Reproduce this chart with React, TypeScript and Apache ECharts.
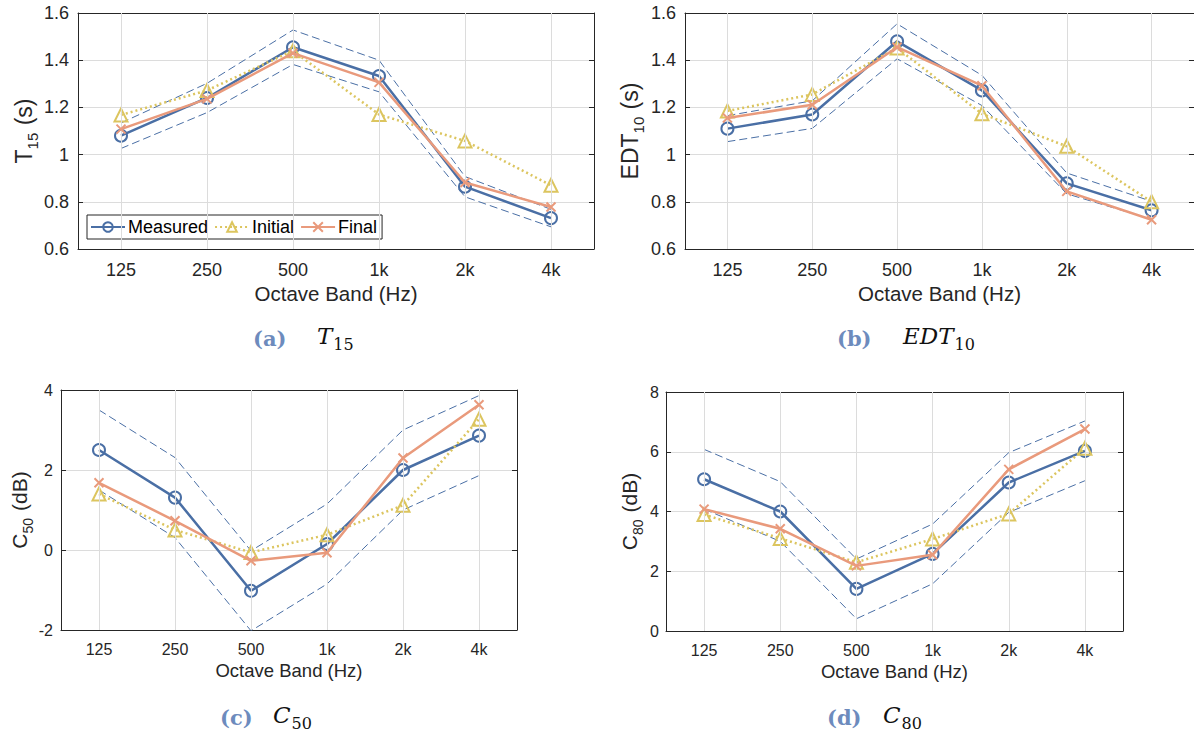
import React, { useEffect, useRef } from "react";
import * as echarts from "echarts";

// ---------- data ----------
const CATS = ["125", "250", "500", "1k", "2k", "4k"];
const SERIES_NAMES = ["Measured", "Initial", "Final"];

const T15_MEASURED = [1.08, 1.24, 1.455, 1.333, 0.864, 0.731];
const T15_INITIAL = [1.168, 1.272, 1.44, 1.17, 1.058, 0.87];
const T15_FINAL = [1.108, 1.236, 1.43, 1.306, 0.882, 0.778];
const T15_UPPER = [1.134, 1.302, 1.528, 1.4, 0.907, 0.768];
const T15_LOWER = [1.026, 1.178, 1.382, 1.266, 0.821, 0.694];

const EDT_MEASURED = [1.11, 1.17, 1.48, 1.272, 0.878, 0.764];
const EDT_INITIAL = [1.185, 1.255, 1.452, 1.173, 1.035, 0.8];
const EDT_FINAL = [1.155, 1.211, 1.455, 1.292, 0.844, 0.724];
const EDT_UPPER = [1.165, 1.228, 1.554, 1.336, 0.922, 0.802];
const EDT_LOWER = [1.055, 1.111, 1.406, 1.208, 0.834, 0.726];

const C50_MEASURED = [2.5, 1.31, -1.02, 0.15, 2.0, 2.86];
const C50_INITIAL = [1.4, 0.5, -0.06, 0.38, 1.12, 3.27];
const C50_FINAL = [1.68, 0.73, -0.27, -0.07, 2.3, 3.63];
const C50_UPPER = [3.5, 2.31, -0.02, 1.15, 3.0, 3.86];
const C50_LOWER = [1.5, 0.31, -2.02, -0.85, 1.0, 1.86];

const C80_MEASURED = [5.08, 4.0, 1.41, 2.58, 4.97, 6.03];
const C80_INITIAL = [3.9, 3.1, 2.3, 3.08, 3.92, 6.12];
const C80_FINAL = [4.08, 3.42, 2.18, 2.55, 5.41, 6.76];
const C80_UPPER = [6.08, 5.0, 2.41, 3.58, 5.97, 7.03];
const C80_LOWER = [4.08, 3.0, 0.41, 1.58, 3.97, 5.03];

const X_NAME = "Octave Band (Hz)";

// ---------- style ----------
const FONT = "'Liberation Sans', Arial, Helvetica, sans-serif";
const SERIF = "'DejaVu Serif', 'Liberation Serif', serif";
const BLUE = "#4a6fa5";
const YELLOW = "#dcc55f";
const ORANGE = "#e99a7c";
const AXIS = "#262626";
const GRID = "#dcdcdc";
const CAP_BLUE = "#6d8bbd";
const X_SYMBOL = "path://M0,0L10,10M10,0L0,10";

const PANELS = [
  {
    grid: { left: 78, top: 13, width: 516, height: 236 },
    min: 0.6, max: 1.6, interval: 0.2,
    yMain: "T", ySub: "15", yUnit: " (s)",
    yNameGap: 38, tickFont: 18, nameFont: 20.5, yNameFont: 23, ySubFont: 15, ySubPad: 13,
    labelMargin: 12, xNameGap: 34, yLabelMargin: 9,
    data: [T15_MEASURED, T15_INITIAL, T15_FINAL, T15_UPPER, T15_LOWER],
  },
  {
    grid: { left: 685, top: 13, width: 516, height: 236 },
    min: 0.6, max: 1.6, interval: 0.2,
    yMain: "EDT", ySub: "10", yUnit: " (s)",
    yNameGap: 44, tickFont: 18, nameFont: 20.5, yNameFont: 23, ySubFont: 15, ySubPad: 13,
    labelMargin: 12, xNameGap: 34, yLabelMargin: 9,
    data: [EDT_MEASURED, EDT_INITIAL, EDT_FINAL, EDT_UPPER, EDT_LOWER],
  },
  {
    grid: { left: 61, top: 390, width: 456, height: 240 },
    min: -2, max: 4, interval: 2,
    yMain: "C", ySub: "50", yUnit: " (dB)",
    yNameGap: 27, tickFont: 16, nameFont: 18.5, yNameFont: 21, ySubFont: 14, ySubPad: 12,
    labelMargin: 11, xNameGap: 31, yLabelMargin: 8,
    data: [C50_MEASURED, C50_INITIAL, C50_FINAL, C50_UPPER, C50_LOWER],
  },
  {
    grid: { left: 666, top: 392, width: 457, height: 239 },
    min: 0, max: 8, interval: 2,
    yMain: "C", ySub: "80", yUnit: " (dB)",
    yNameGap: 26, tickFont: 16, nameFont: 18.5, yNameFont: 21, ySubFont: 14, ySubPad: 12,
    labelMargin: 11, xNameGap: 31, yLabelMargin: 7,
    data: [C80_MEASURED, C80_INITIAL, C80_FINAL, C80_UPPER, C80_LOWER],
  },
];

const CAPTIONS = [
  { label: "(a)", main: "T", sub: "15", lx: 253, mx: 317, y: 338 },
  { label: "(b)", main: "EDT", sub: "10", lx: 837, mx: 903, y: 338 },
  { label: "(c)", main: "C", sub: "50", lx: 220, mx: 273, y: 717 },
  { label: "(d)", main: "C", sub: "80", lx: 827, mx: 883, y: 717 },
];

function buildOption() {
  const grid: any[] = [];
  const xAxis: any[] = [];
  const yAxis: any[] = [];
  const series: any[] = [];

  PANELS.forEach((p, i) => {
    grid.push({ ...p.grid, containLabel: false });
    const tick = { show: true, inside: true, length: 5, alignWithLabel: true, lineStyle: { color: AXIS, width: 1 } };
    const line = { show: true, onZero: false, lineStyle: { color: AXIS, width: 1 } };
    xAxis.push({
      type: "category", gridIndex: i, data: CATS, boundaryGap: true, position: "bottom",
      axisLine: line, axisTick: tick,
      axisLabel: { fontSize: p.tickFont, fontFamily: FONT, color: AXIS, margin: p.labelMargin },
      splitLine: { show: false },
      name: X_NAME, nameLocation: "middle", nameGap: p.xNameGap,
      nameTextStyle: { fontSize: p.nameFont, fontFamily: FONT, color: AXIS, verticalAlign: "top" },
    });
    xAxis.push({
      type: "category", gridIndex: i, data: CATS, boundaryGap: true, position: "top",
      axisLine: line, axisTick: tick, axisLabel: { show: false }, splitLine: { show: false },
    });
    const yName = `{n|${p.yMain}}{s|${p.ySub}}{n|${p.yUnit}}`;
    yAxis.push({
      type: "value", gridIndex: i, min: p.min, max: p.max, interval: p.interval, position: "left",
      axisLine: line, axisTick: { show: true, inside: true, length: 5, lineStyle: { color: AXIS } },
      axisLabel: { fontSize: p.tickFont, fontFamily: FONT, color: AXIS, margin: p.yLabelMargin },
      splitLine: { show: true, lineStyle: { color: GRID, width: 1 } },
      name: yName, nameLocation: "middle", nameGap: p.yNameGap, nameRotate: 90,
      nameTextStyle: {
        fontFamily: FONT, color: AXIS,
        rich: {
          n: { fontSize: p.yNameFont, fontFamily: FONT, color: AXIS, lineHeight: p.yNameFont, verticalAlign: "top" },
          s: { fontSize: p.ySubFont, fontFamily: FONT, color: AXIS, lineHeight: p.ySubFont, verticalAlign: "top", padding: [p.ySubPad, 1, 0, 0] },
        },
      },
    });
    yAxis.push({
      type: "value", gridIndex: i, min: p.min, max: p.max, interval: p.interval, position: "right",
      axisLine: line, axisTick: { show: true, inside: true, length: 5, lineStyle: { color: AXIS } },
      axisLabel: { show: false }, splitLine: { show: false },
    });

    const xi = 2 * i;
    const yi = 2 * i;
    // vertical grid lines at category centres
    series.push({
      type: "line", xAxisIndex: xi, yAxisIndex: yi, data: CATS.map(() => null), z: 1, silent: true,
      symbol: "none", lineStyle: { opacity: 0 },
      markLine: {
        silent: true, symbol: ["none", "none"], label: { show: false },
        lineStyle: { color: GRID, width: 1, type: "solid" },
        emphasis: { disabled: true },
        data: CATS.map((c) => ({ xAxis: c })),
      },
    });
    const [meas, init, fin, up, lo] = p.data;
    [up, lo].forEach((d) => {
      series.push({
        type: "line", xAxisIndex: xi, yAxisIndex: yi, data: d, z: 2, silent: true,
        symbol: "none", lineStyle: { color: BLUE, width: 1, type: [8, 4] },
      });
    });
    series.push({
      name: SERIES_NAMES[0], type: "line", xAxisIndex: xi, yAxisIndex: yi, data: meas, z: 3,
      symbol: "circle", symbolSize: 12,
      itemStyle: { color: "rgba(255,255,255,0)", borderColor: BLUE, borderWidth: 2 },
      lineStyle: { color: BLUE, width: 2.5 },
    });
    series.push({
      name: SERIES_NAMES[1], type: "line", xAxisIndex: xi, yAxisIndex: yi, data: init, z: 4,
      symbol: "triangle", symbolSize: 13,
      itemStyle: { color: "rgba(255,255,255,0)", borderColor: YELLOW, borderWidth: 2 },
      lineStyle: { color: YELLOW, width: 2.5, type: [2, 3] },
    });
    series.push({
      name: SERIES_NAMES[2], type: "line", xAxisIndex: xi, yAxisIndex: yi, data: fin, z: 5,
      symbol: X_SYMBOL, symbolSize: 9,
      itemStyle: { color: "rgba(255,255,255,0)", borderColor: ORANGE, borderWidth: 2 },
      lineStyle: { color: ORANGE, width: 2.5 },
    });
  });

  const graphic: any[] = [];
  CAPTIONS.forEach((c) => {
    graphic.push({
      type: "text", x: c.lx, y: c.y,
      style: {
        text: c.label, fill: CAP_BLUE, fontFamily: SERIF, fontWeight: "bold", fontSize: 21,
        verticalAlign: "middle", align: "left",
      },
    });
    graphic.push({
      type: "text", x: c.mx, y: c.y - 2,
      style: {
        text: `{i|${c.main}}{s|${c.sub}}`, verticalAlign: "middle", align: "left",
        rich: {
          i: { fontFamily: SERIF, fontStyle: "italic", fontSize: 23, fill: "#111", lineHeight: 24, verticalAlign: "top" },
          s: { fontFamily: SERIF, fontSize: 16, fill: "#111", lineHeight: 16, verticalAlign: "top", padding: [12, 0, 0, 1] },
        },
      },
    });
  });

  return {
    animation: false,
    backgroundColor: "#ffffff",
    grid, xAxis, yAxis, series, graphic,
    legend: {
      show: true, data: SERIES_NAMES, selectedMode: false,
      left: 87, top: 215, orient: "horizontal",
      itemWidth: 34, itemHeight: 12, itemGap: 6,
      padding: [3, 5, 3, 3],
      backgroundColor: "#ffffff", borderColor: AXIS, borderWidth: 1,
      textStyle: { fontSize: 18, fontFamily: FONT, color: "#000", padding: [0, 0, 0, -2] },
    },
  };
}

export default function App() {
  const ref = useRef<HTMLDivElement>(null);
  useEffect(() => {
    if (!ref.current) return;
    const chart = echarts.init(ref.current, null, { renderer: "svg" });
    chart.setOption(buildOption() as any);
    return () => chart.dispose();
  }, []);
  return (
    <div
      ref={ref}
      style={{ position: "absolute", left: 0, top: 0, width: 1194, height: 734, background: "#fff" }}
    />
  );
}
